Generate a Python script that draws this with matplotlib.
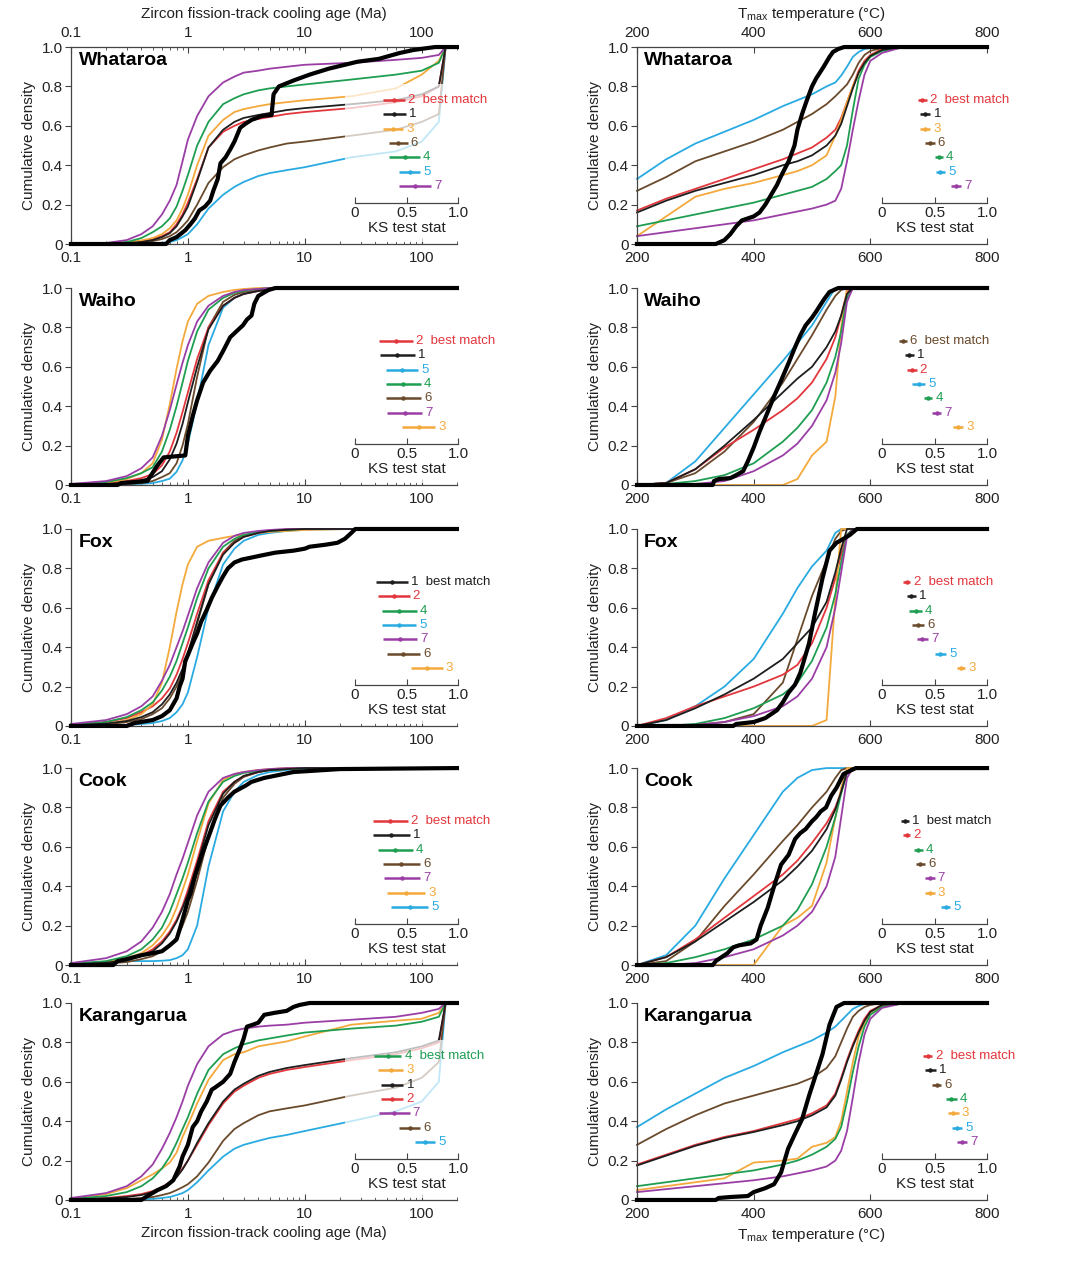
import matplotlib.pyplot as plt
from matplotlib.patches import Rectangle
from matplotlib.ticker import FixedLocator, LogLocator, NullFormatter

plt.rcParams['font.family'] = ['Liberation Sans', 'DejaVu Sans']
plt.rcParams['mathtext.fontset'] = 'custom'
plt.rcParams['mathtext.rm'] = 'Liberation Sans'

SITES = ['Whataroa', 'Waiho', 'Fox', 'Cook', 'Karangarua']

# shared x grids (Ma and deg C)
AGE = [0.1, 0.2, 0.3, 0.4, 0.5, 0.6, 0.7, 0.8, 0.9, 1.0, 1.2, 1.5, 2, 2.5, 3, 4, 5, 7, 10, 25, 60, 100, 140, 160, 200]
TEMP = [200, 250, 300, 350, 400, 450, 475, 500, 525, 540, 550, 560, 570, 580, 590, 600, 620, 650, 700, 800]

COLORS = {1: '#1e1e1e', 2: '#e2373c', 3: '#f4a93c', 4: '#1f9e52', 5: '#29abe2', 6: '#6a4a2c', 7: '#9a3ea6'}
DRAW_ORDER = [5, 6, 2, 3, 4, 7, 1]

# ---- zircon fission-track age CDFs, models 1-7 ----
AGE_WHATAROA = {
    7: [0.0, 0.005, 0.02, 0.05, 0.09, 0.15, 0.22, 0.30, 0.42, 0.53, 0.65, 0.75, 0.82, 0.85, 0.87, 0.88, 0.89, 0.90, 0.91, 0.92, 0.935, 0.945, 0.96, 1.0, 1.0],
    4: [0.0, 0.003, 0.01, 0.03, 0.06, 0.09, 0.13, 0.19, 0.27, 0.35, 0.50, 0.62, 0.71, 0.74, 0.76, 0.78, 0.79, 0.80, 0.81, 0.835, 0.86, 0.88, 0.92, 1.0, 1.0],
    3: [0.0, 0.002, 0.008, 0.018, 0.03, 0.05, 0.08, 0.12, 0.18, 0.25, 0.40, 0.55, 0.63, 0.67, 0.685, 0.70, 0.71, 0.72, 0.73, 0.75, 0.79, 0.86, 0.93, 1.0, 1.0],
    2: [0.0, 0.002, 0.006, 0.013, 0.025, 0.04, 0.06, 0.10, 0.15, 0.21, 0.33, 0.49, 0.57, 0.60, 0.62, 0.635, 0.645, 0.66, 0.67, 0.69, 0.72, 0.75, 0.80, 1.0, 1.0],
    1: [0.0, 0.001, 0.004, 0.01, 0.02, 0.035, 0.055, 0.09, 0.14, 0.19, 0.32, 0.49, 0.58, 0.62, 0.64, 0.655, 0.665, 0.68, 0.69, 0.71, 0.73, 0.76, 0.80, 1.0, 1.0],
    6: [0.0, 0.001, 0.004, 0.008, 0.015, 0.025, 0.04, 0.06, 0.09, 0.12, 0.20, 0.31, 0.39, 0.43, 0.45, 0.475, 0.49, 0.51, 0.52, 0.55, 0.58, 0.62, 0.66, 1.0, 1.0],
    5: [0.0, 0.0, 0.001, 0.002, 0.003, 0.006, 0.01, 0.02, 0.035, 0.05, 0.10, 0.18, 0.25, 0.29, 0.315, 0.345, 0.36, 0.375, 0.39, 0.44, 0.47, 0.52, 0.62, 1.0, 1.0],
}
AGE_WAIHO = {
    7: [0.005, 0.02, 0.045, 0.085, 0.14, 0.25, 0.38, 0.51, 0.62, 0.71, 0.83, 0.91, 0.96, 0.98, 0.99, 0.995, 1.0, 1.0, 1.0, 1.0, 1.0, 1.0, 1.0, 1.0, 1.0],
    3: [0.0, 0.01, 0.03, 0.06, 0.11, 0.23, 0.41, 0.59, 0.73, 0.83, 0.92, 0.96, 0.98, 0.99, 0.995, 1.0, 1.0, 1.0, 1.0, 1.0, 1.0, 1.0, 1.0, 1.0, 1.0],
    4: [0.003, 0.015, 0.035, 0.06, 0.09, 0.17, 0.28, 0.40, 0.52, 0.63, 0.78, 0.89, 0.95, 0.975, 0.985, 0.995, 1.0, 1.0, 1.0, 1.0, 1.0, 1.0, 1.0, 1.0, 1.0],
    2: [0.002, 0.01, 0.02, 0.035, 0.055, 0.10, 0.17, 0.265, 0.37, 0.47, 0.64, 0.80, 0.91, 0.95, 0.97, 0.985, 0.993, 1.0, 1.0, 1.0, 1.0, 1.0, 1.0, 1.0, 1.0],
    1: [0.0, 0.005, 0.012, 0.025, 0.04, 0.07, 0.13, 0.21, 0.31, 0.42, 0.60, 0.79, 0.91, 0.95, 0.97, 0.985, 0.993, 1.0, 1.0, 1.0, 1.0, 1.0, 1.0, 1.0, 1.0],
    6: [0.0, 0.002, 0.005, 0.01, 0.02, 0.04, 0.06, 0.11, 0.20, 0.31, 0.55, 0.80, 0.93, 0.965, 0.98, 0.99, 0.995, 1.0, 1.0, 1.0, 1.0, 1.0, 1.0, 1.0, 1.0],
    5: [0.0, 0.001, 0.003, 0.006, 0.01, 0.02, 0.032, 0.067, 0.125, 0.21, 0.42, 0.71, 0.90, 0.95, 0.97, 0.985, 0.993, 1.0, 1.0, 1.0, 1.0, 1.0, 1.0, 1.0, 1.0],
}
AGE_FOX = {
    3: [0.003, 0.01, 0.03, 0.06, 0.11, 0.22, 0.40, 0.58, 0.72, 0.82, 0.91, 0.94, 0.955, 0.965, 0.97, 0.98, 0.985, 0.99, 0.995, 1.0, 1.0, 1.0, 1.0, 1.0, 1.0],
    7: [0.01, 0.03, 0.06, 0.10, 0.15, 0.23, 0.31, 0.40, 0.48, 0.56, 0.70, 0.83, 0.93, 0.965, 0.98, 0.99, 0.995, 1.0, 1.0, 1.0, 1.0, 1.0, 1.0, 1.0, 1.0],
    4: [0.005, 0.02, 0.045, 0.08, 0.12, 0.18, 0.25, 0.33, 0.42, 0.50, 0.65, 0.80, 0.91, 0.95, 0.97, 0.985, 0.99, 0.996, 1.0, 1.0, 1.0, 1.0, 1.0, 1.0, 1.0],
    2: [0.005, 0.02, 0.04, 0.07, 0.10, 0.14, 0.19, 0.26, 0.34, 0.42, 0.57, 0.74, 0.88, 0.93, 0.96, 0.98, 0.99, 0.996, 1.0, 1.0, 1.0, 1.0, 1.0, 1.0, 1.0],
    1: [0.003, 0.012, 0.025, 0.045, 0.07, 0.11, 0.16, 0.22, 0.29, 0.37, 0.53, 0.72, 0.87, 0.93, 0.96, 0.98, 0.99, 0.996, 1.0, 1.0, 1.0, 1.0, 1.0, 1.0, 1.0],
    6: [0.002, 0.008, 0.02, 0.035, 0.06, 0.09, 0.14, 0.20, 0.27, 0.35, 0.52, 0.72, 0.88, 0.94, 0.965, 0.985, 0.99, 0.997, 1.0, 1.0, 1.0, 1.0, 1.0, 1.0, 1.0],
    5: [0.0, 0.002, 0.005, 0.01, 0.015, 0.025, 0.04, 0.07, 0.11, 0.17, 0.35, 0.60, 0.82, 0.90, 0.94, 0.97, 0.98, 0.99, 0.997, 1.0, 1.0, 1.0, 1.0, 1.0, 1.0],
}
AGE_COOK = {
    7: [0.01, 0.035, 0.07, 0.12, 0.19, 0.27, 0.36, 0.46, 0.54, 0.62, 0.76, 0.88, 0.95, 0.97, 0.98, 0.99, 0.995, 1.0, 1.0, 1.0, 1.0, 1.0, 1.0, 1.0, 1.0],
    4: [0.006, 0.02, 0.045, 0.08, 0.13, 0.19, 0.27, 0.36, 0.44, 0.52, 0.67, 0.83, 0.93, 0.96, 0.975, 0.985, 0.99, 0.995, 1.0, 1.0, 1.0, 1.0, 1.0, 1.0, 1.0],
    3: [0.004, 0.015, 0.035, 0.06, 0.10, 0.15, 0.21, 0.29, 0.38, 0.46, 0.63, 0.82, 0.94, 0.97, 0.98, 0.99, 0.995, 1.0, 1.0, 1.0, 1.0, 1.0, 1.0, 1.0, 1.0],
    2: [0.004, 0.015, 0.03, 0.05, 0.08, 0.12, 0.17, 0.23, 0.30, 0.38, 0.53, 0.73, 0.88, 0.93, 0.96, 0.98, 0.99, 0.995, 1.0, 1.0, 1.0, 1.0, 1.0, 1.0, 1.0],
    1: [0.003, 0.012, 0.025, 0.045, 0.07, 0.11, 0.16, 0.22, 0.29, 0.36, 0.51, 0.71, 0.87, 0.93, 0.96, 0.98, 0.99, 0.995, 1.0, 1.0, 1.0, 1.0, 1.0, 1.0, 1.0],
    6: [0.002, 0.008, 0.015, 0.03, 0.045, 0.07, 0.10, 0.14, 0.20, 0.27, 0.43, 0.65, 0.85, 0.92, 0.955, 0.98, 0.99, 0.995, 1.0, 1.0, 1.0, 1.0, 1.0, 1.0, 1.0],
    5: [0.01, 0.015, 0.02, 0.02, 0.02, 0.022, 0.025, 0.035, 0.05, 0.08, 0.20, 0.50, 0.78, 0.88, 0.93, 0.965, 0.98, 0.99, 0.995, 1.0, 1.0, 1.0, 1.0, 1.0, 1.0],
}
AGE_KARANGARUA = {
    7: [0.01, 0.035, 0.07, 0.12, 0.18, 0.26, 0.34, 0.42, 0.50, 0.58, 0.69, 0.78, 0.84, 0.86, 0.87, 0.88, 0.885, 0.89, 0.90, 0.915, 0.93, 0.95, 0.97, 1.0, 1.0],
    4: [0.005, 0.02, 0.04, 0.07, 0.11, 0.16, 0.22, 0.29, 0.36, 0.42, 0.54, 0.66, 0.74, 0.77, 0.79, 0.81, 0.82, 0.835, 0.85, 0.87, 0.885, 0.905, 0.93, 1.0, 1.0],
    3: [0.008, 0.03, 0.06, 0.10, 0.13, 0.16, 0.19, 0.24, 0.32, 0.38, 0.49, 0.61, 0.71, 0.74, 0.75, 0.78, 0.79, 0.805, 0.83, 0.89, 0.91, 0.92, 0.95, 1.0, 1.0],
    2: [0.003, 0.01, 0.02, 0.03, 0.045, 0.065, 0.09, 0.12, 0.16, 0.20, 0.28, 0.38, 0.49, 0.55, 0.58, 0.62, 0.64, 0.66, 0.675, 0.71, 0.74, 0.77, 0.80, 1.0, 1.0],
    1: [0.002, 0.008, 0.015, 0.025, 0.04, 0.06, 0.085, 0.115, 0.155, 0.20, 0.29, 0.39, 0.50, 0.56, 0.59, 0.63, 0.65, 0.67, 0.685, 0.72, 0.75, 0.78, 0.81, 1.0, 1.0],
    6: [0.0, 0.002, 0.005, 0.01, 0.015, 0.025, 0.035, 0.05, 0.065, 0.08, 0.12, 0.19, 0.30, 0.36, 0.39, 0.43, 0.45, 0.465, 0.48, 0.53, 0.57, 0.62, 0.70, 1.0, 1.0],
    5: [0.0, 0.0, 0.001, 0.003, 0.006, 0.01, 0.015, 0.025, 0.035, 0.05, 0.09, 0.15, 0.22, 0.26, 0.28, 0.30, 0.315, 0.33, 0.35, 0.40, 0.45, 0.50, 0.60, 1.0, 1.0],
}

# observed (thick black) age CDFs
OBS_AGE_X = [
    [0.1, 0.65, 0.7, 0.8, 0.95, 1.05, 1.15, 1.25, 1.4, 1.55, 1.65, 1.8, 1.9, 2.1, 2.3, 2.5, 2.8, 3.1, 3.5, 4.3, 5.2, 5.4, 6.0, 8.0, 11, 16, 28, 43, 65, 85, 130, 200],
    [0.1, 0.25, 0.27, 0.45, 0.55, 0.62, 0.95, 1.0, 1.1, 1.2, 1.35, 1.55, 1.8, 2.0, 2.3, 2.6, 2.95, 3.2, 3.5, 3.7, 4.0, 4.9, 5.6, 200],
    [0.1, 0.3, 0.35, 0.5, 0.6, 0.7, 0.8, 0.85, 0.9, 0.95, 1.0, 1.1, 1.2, 1.3, 1.45, 1.6, 1.8, 2.0, 2.2, 2.5, 2.9, 3.5, 4.2, 5.6, 8, 10, 11, 15, 19, 22, 25, 27, 200],
    [0.1, 0.23, 0.25, 0.3, 0.4, 0.5, 0.6, 0.7, 0.8, 0.87, 0.95, 1.0, 1.05, 1.15, 1.3, 1.5, 1.7, 1.9, 2.2, 2.5, 3.1, 3.5, 4.5, 8, 20, 200],
    [0.1, 0.4, 0.45, 0.55, 0.65, 0.75, 0.85, 0.9, 1.0, 1.1, 1.2, 1.3, 1.45, 1.6, 1.7, 2.0, 2.3, 2.5, 2.8, 3.0, 3.2, 3.6, 4.0, 4.5, 5.5, 7, 8, 9, 11, 200],
]
OBS_AGE_Y = [
    [0.0, 0.0, 0.02, 0.035, 0.07, 0.10, 0.13, 0.17, 0.19, 0.22, 0.27, 0.33, 0.41, 0.44, 0.48, 0.52, 0.59, 0.61, 0.63, 0.65, 0.655, 0.76, 0.80, 0.83, 0.86, 0.89, 0.925, 0.94, 0.97, 0.985, 1.0, 1.0],
    [0.0, 0.0, 0.01, 0.02, 0.10, 0.14, 0.15, 0.25, 0.35, 0.43, 0.52, 0.58, 0.63, 0.68, 0.75, 0.78, 0.81, 0.84, 0.86, 0.92, 0.96, 0.99, 1.0, 1.0],
    [0.0, 0.0, 0.015, 0.03, 0.05, 0.08, 0.14, 0.20, 0.24, 0.33, 0.36, 0.42, 0.47, 0.53, 0.59, 0.65, 0.71, 0.76, 0.80, 0.83, 0.845, 0.855, 0.865, 0.88, 0.89, 0.90, 0.91, 0.92, 0.93, 0.95, 0.98, 1.0, 1.0],
    [0.0, 0.0, 0.02, 0.03, 0.05, 0.06, 0.07, 0.10, 0.13, 0.20, 0.28, 0.33, 0.36, 0.45, 0.55, 0.65, 0.74, 0.81, 0.85, 0.88, 0.91, 0.93, 0.95, 0.98, 0.995, 1.0],
    [0.0, 0.0, 0.02, 0.05, 0.07, 0.10, 0.17, 0.22, 0.28, 0.37, 0.40, 0.45, 0.50, 0.56, 0.57, 0.60, 0.64, 0.70, 0.77, 0.82, 0.88, 0.89, 0.90, 0.94, 0.95, 0.96, 0.98, 0.99, 1.0, 1.0],
]

# ---- Tmax temperature CDFs, models 1-7 ----
TEMP_WHATAROA = {
    5: [0.33, 0.43, 0.51, 0.57, 0.63, 0.70, 0.73, 0.76, 0.80, 0.82, 0.855, 0.90, 0.95, 0.975, 0.99, 0.995, 1.0, 1.0, 1.0, 1.0],
    6: [0.27, 0.34, 0.42, 0.47, 0.52, 0.58, 0.62, 0.66, 0.71, 0.75, 0.78, 0.81, 0.86, 0.92, 0.96, 0.98, 0.995, 1.0, 1.0, 1.0],
    2: [0.17, 0.23, 0.28, 0.33, 0.38, 0.43, 0.46, 0.49, 0.54, 0.58, 0.64, 0.72, 0.80, 0.88, 0.93, 0.96, 0.99, 1.0, 1.0, 1.0],
    1: [0.16, 0.22, 0.27, 0.31, 0.35, 0.40, 0.42, 0.45, 0.50, 0.55, 0.61, 0.70, 0.79, 0.87, 0.92, 0.955, 0.985, 1.0, 1.0, 1.0],
    3: [0.04, 0.14, 0.24, 0.28, 0.31, 0.35, 0.37, 0.40, 0.45, 0.55, 0.63, 0.72, 0.80, 0.87, 0.92, 0.955, 0.985, 1.0, 1.0, 1.0],
    4: [0.09, 0.12, 0.15, 0.18, 0.21, 0.25, 0.27, 0.29, 0.33, 0.37, 0.40, 0.50, 0.68, 0.84, 0.91, 0.95, 0.98, 0.997, 1.0, 1.0],
    7: [0.04, 0.06, 0.08, 0.10, 0.12, 0.15, 0.165, 0.18, 0.20, 0.22, 0.28, 0.42, 0.58, 0.73, 0.86, 0.93, 0.97, 0.995, 1.0, 1.0],
}
TEMP_WAIHO = {
    5: [0.0, 0.01, 0.12, 0.29, 0.46, 0.63, 0.72, 0.81, 0.93, 1.0, 1.0, 1.0, 1.0, 1.0, 1.0, 1.0, 1.0, 1.0, 1.0, 1.0],
    6: [0.0, 0.01, 0.06, 0.17, 0.32, 0.52, 0.64, 0.76, 0.89, 0.96, 0.99, 1.0, 1.0, 1.0, 1.0, 1.0, 1.0, 1.0, 1.0, 1.0],
    1: [0.0, 0.01, 0.08, 0.20, 0.33, 0.47, 0.54, 0.60, 0.70, 0.78, 0.86, 0.97, 1.0, 1.0, 1.0, 1.0, 1.0, 1.0, 1.0, 1.0],
    2: [0.0, 0.01, 0.08, 0.19, 0.28, 0.38, 0.44, 0.52, 0.64, 0.75, 0.86, 0.98, 1.0, 1.0, 1.0, 1.0, 1.0, 1.0, 1.0, 1.0],
    4: [0.0, 0.005, 0.02, 0.05, 0.11, 0.22, 0.29, 0.38, 0.52, 0.65, 0.78, 0.95, 1.0, 1.0, 1.0, 1.0, 1.0, 1.0, 1.0, 1.0],
    7: [0.0, 0.0, 0.005, 0.02, 0.07, 0.15, 0.21, 0.30, 0.43, 0.57, 0.72, 0.93, 1.0, 1.0, 1.0, 1.0, 1.0, 1.0, 1.0, 1.0],
    3: [0.0, 0.0, 0.0, 0.0, 0.0, 0.0, 0.03, 0.15, 0.22, 0.45, 0.80, 1.0, 1.0, 1.0, 1.0, 1.0, 1.0, 1.0, 1.0, 1.0],
}
TEMP_FOX = {
    5: [0.0, 0.03, 0.10, 0.20, 0.34, 0.57, 0.70, 0.81, 0.89, 0.98, 1.0, 1.0, 1.0, 1.0, 1.0, 1.0, 1.0, 1.0, 1.0, 1.0],
    1: [0.0, 0.03, 0.09, 0.16, 0.24, 0.34, 0.42, 0.50, 0.63, 0.78, 0.90, 1.0, 1.0, 1.0, 1.0, 1.0, 1.0, 1.0, 1.0, 1.0],
    2: [0.0, 0.04, 0.10, 0.15, 0.20, 0.26, 0.31, 0.42, 0.60, 0.75, 0.87, 0.97, 1.0, 1.0, 1.0, 1.0, 1.0, 1.0, 1.0, 1.0],
    6: [0.0, 0.0, 0.005, 0.02, 0.06, 0.22, 0.44, 0.66, 0.84, 0.95, 0.99, 1.0, 1.0, 1.0, 1.0, 1.0, 1.0, 1.0, 1.0, 1.0],
    4: [0.0, 0.0, 0.01, 0.04, 0.09, 0.16, 0.22, 0.33, 0.50, 0.67, 0.83, 0.97, 1.0, 1.0, 1.0, 1.0, 1.0, 1.0, 1.0, 1.0],
    7: [0.0, 0.0, 0.005, 0.02, 0.05, 0.10, 0.15, 0.24, 0.40, 0.60, 0.78, 0.96, 1.0, 1.0, 1.0, 1.0, 1.0, 1.0, 1.0, 1.0],
    3: [0.0, 0.0, 0.0, 0.0, 0.0, 0.0, 0.0, 0.0, 0.03, 0.65, 1.0, 1.0, 1.0, 1.0, 1.0, 1.0, 1.0, 1.0, 1.0, 1.0],
}
TEMP_COOK = {
    5: [0.0, 0.05, 0.20, 0.44, 0.66, 0.88, 0.95, 0.99, 1.0, 1.0, 1.0, 1.0, 1.0, 1.0, 1.0, 1.0, 1.0, 1.0, 1.0, 1.0],
    6: [0.0, 0.02, 0.12, 0.30, 0.46, 0.63, 0.71, 0.80, 0.88, 0.95, 0.99, 1.0, 1.0, 1.0, 1.0, 1.0, 1.0, 1.0, 1.0, 1.0],
    2: [0.0, 0.04, 0.13, 0.24, 0.35, 0.46, 0.53, 0.62, 0.72, 0.80, 0.88, 0.98, 1.0, 1.0, 1.0, 1.0, 1.0, 1.0, 1.0, 1.0],
    1: [0.0, 0.04, 0.12, 0.22, 0.32, 0.43, 0.50, 0.58, 0.69, 0.79, 0.88, 0.98, 1.0, 1.0, 1.0, 1.0, 1.0, 1.0, 1.0, 1.0],
    4: [0.0, 0.01, 0.04, 0.08, 0.13, 0.20, 0.28, 0.41, 0.60, 0.75, 0.87, 0.98, 1.0, 1.0, 1.0, 1.0, 1.0, 1.0, 1.0, 1.0],
    7: [0.0, 0.0, 0.01, 0.04, 0.08, 0.15, 0.20, 0.27, 0.40, 0.55, 0.75, 0.95, 1.0, 1.0, 1.0, 1.0, 1.0, 1.0, 1.0, 1.0],
    3: [0.0, 0.0, 0.0, 0.0, 0.0, 0.20, 0.24, 0.30, 0.52, 0.75, 0.90, 1.0, 1.0, 1.0, 1.0, 1.0, 1.0, 1.0, 1.0, 1.0],
}
TEMP_KARANGARUA = {
    5: [0.37, 0.46, 0.54, 0.62, 0.68, 0.75, 0.78, 0.81, 0.85, 0.88, 0.91, 0.94, 0.97, 0.985, 0.995, 1.0, 1.0, 1.0, 1.0, 1.0],
    6: [0.28, 0.36, 0.43, 0.49, 0.53, 0.57, 0.59, 0.62, 0.67, 0.73, 0.80, 0.87, 0.93, 0.96, 0.98, 0.99, 1.0, 1.0, 1.0, 1.0],
    2: [0.18, 0.23, 0.28, 0.32, 0.35, 0.39, 0.41, 0.44, 0.48, 0.54, 0.62, 0.71, 0.79, 0.86, 0.92, 0.96, 0.99, 1.0, 1.0, 1.0],
    1: [0.175, 0.225, 0.275, 0.315, 0.345, 0.38, 0.40, 0.43, 0.47, 0.53, 0.61, 0.70, 0.78, 0.85, 0.91, 0.955, 0.99, 1.0, 1.0, 1.0],
    4: [0.07, 0.09, 0.11, 0.13, 0.15, 0.18, 0.20, 0.23, 0.27, 0.31, 0.37, 0.50, 0.65, 0.78, 0.88, 0.94, 0.98, 0.995, 1.0, 1.0],
    3: [0.05, 0.07, 0.09, 0.11, 0.19, 0.20, 0.21, 0.27, 0.29, 0.32, 0.40, 0.55, 0.70, 0.83, 0.90, 0.95, 0.985, 1.0, 1.0, 1.0],
    7: [0.04, 0.055, 0.07, 0.085, 0.10, 0.12, 0.135, 0.15, 0.17, 0.20, 0.25, 0.35, 0.52, 0.70, 0.84, 0.92, 0.975, 0.995, 1.0, 1.0],
}

OBS_TEMP_X = [
    [200, 335, 350, 360, 370, 380, 390, 400, 410, 420, 430, 440, 447, 460, 470, 475, 483, 490, 500, 507, 520, 530, 536, 545, 555, 800],
    [200, 330, 332, 340, 360, 370, 382, 390, 400, 410, 424, 435, 447, 460, 471, 480, 489, 500, 507, 520, 530, 545, 800],
    [200, 365, 370, 400, 420, 440, 450, 460, 471, 480, 495, 505, 518, 530, 542, 554, 565, 577, 800],
    [200, 330, 335, 345, 355, 365, 375, 395, 405, 412, 424, 435, 447, 460, 471, 480, 489, 500, 507, 515, 524, 533, 542, 554, 575, 800],
    [200, 335, 340, 360, 390, 400, 420, 435, 447, 459, 470, 483, 495, 506, 518, 530, 542, 555, 800],
]
OBS_TEMP_Y = [
    [0.0, 0.0, 0.02, 0.05, 0.09, 0.12, 0.13, 0.14, 0.16, 0.20, 0.25, 0.30, 0.345, 0.42, 0.50, 0.58, 0.66, 0.72, 0.80, 0.84, 0.90, 0.95, 0.975, 0.99, 1.0, 1.0],
    [0.0, 0.0, 0.02, 0.03, 0.035, 0.05, 0.07, 0.12, 0.19, 0.27, 0.37, 0.45, 0.53, 0.62, 0.70, 0.76, 0.81, 0.85, 0.88, 0.94, 0.98, 1.0, 1.0],
    [0.0, 0.0, 0.01, 0.02, 0.04, 0.08, 0.12, 0.17, 0.21, 0.27, 0.42, 0.57, 0.75, 0.89, 0.93, 0.95, 0.97, 1.0, 1.0],
    [0.0, 0.0, 0.02, 0.04, 0.06, 0.09, 0.10, 0.11, 0.13, 0.20, 0.29, 0.40, 0.51, 0.56, 0.64, 0.67, 0.69, 0.73, 0.75, 0.78, 0.80, 0.86, 0.90, 0.97, 1.0, 1.0],
    [0.0, 0.0, 0.01, 0.015, 0.02, 0.04, 0.06, 0.08, 0.14, 0.26, 0.33, 0.41, 0.53, 0.63, 0.74, 0.89, 0.98, 1.0, 1.0],
]

# KS test statistic ranges (model, low, high), listed top to bottom
KS_AGE = [
    [(2, 0.27, 0.48), (1, 0.27, 0.49), (3, 0.27, 0.47), (6, 0.33, 0.51), (4, 0.33, 0.63), (5, 0.43, 0.63), (7, 0.43, 0.74)],
    [(2, 0.23, 0.56), (1, 0.24, 0.58), (5, 0.30, 0.61), (4, 0.30, 0.64), (6, 0.30, 0.64), (7, 0.31, 0.65), (3, 0.46, 0.78)],
    [(1, 0.20, 0.51), (2, 0.22, 0.53), (4, 0.26, 0.60), (5, 0.26, 0.59), (7, 0.27, 0.60), (6, 0.31, 0.63), (3, 0.54, 0.85)],
    [(2, 0.17, 0.51), (1, 0.17, 0.53), (4, 0.22, 0.56), (6, 0.27, 0.63), (7, 0.28, 0.63), (3, 0.31, 0.68), (5, 0.35, 0.71)],
    [(4, 0.18, 0.45), (3, 0.22, 0.47), (1, 0.25, 0.47), (2, 0.25, 0.47), (7, 0.23, 0.53), (6, 0.43, 0.63), (5, 0.58, 0.78)],
]
KS_TEMP = [
    [(2, 0.34, 0.43), (1, 0.36, 0.46), (3, 0.36, 0.46), (6, 0.41, 0.50), (4, 0.50, 0.58), (5, 0.51, 0.60), (7, 0.66, 0.75)],
    [(6, 0.16, 0.24), (1, 0.22, 0.30), (2, 0.24, 0.33), (5, 0.29, 0.41), (4, 0.40, 0.48), (7, 0.48, 0.56), (3, 0.68, 0.77)],
    [(2, 0.20, 0.27), (1, 0.24, 0.32), (4, 0.26, 0.38), (6, 0.29, 0.40), (7, 0.33, 0.44), (5, 0.50, 0.61), (3, 0.71, 0.79)],
    [(1, 0.18, 0.26), (2, 0.20, 0.27), (4, 0.30, 0.39), (6, 0.32, 0.41), (7, 0.41, 0.50), (3, 0.41, 0.50), (5, 0.56, 0.65)],
    [(2, 0.39, 0.48), (1, 0.41, 0.51), (6, 0.48, 0.56), (4, 0.61, 0.71), (3, 0.63, 0.73), (5, 0.67, 0.76), (7, 0.71, 0.81)],
]

AGE_CURVES = [AGE_WHATAROA, AGE_WAIHO, AGE_FOX, AGE_COOK, AGE_KARANGARUA]
TEMP_CURVES = [TEMP_WHATAROA, TEMP_WAIHO, TEMP_FOX, TEMP_COOK, TEMP_KARANGARUA]

AGE_LABEL = 'Zircon fission-track cooling age (Ma)'
TEMP_LABEL = r'T$_{\mathregular{max}}$ temperature (°C)'
AX_COL = '#444444'
TXT_COL = '#222222'

fig = plt.figure(figsize=(10.8, 12.61), dpi=100)
row_bottoms = [0.8065, 0.6154, 0.4243, 0.2347, 0.0484]
h = 0.1562


def add_ks_inset(ax, entries, ks0, ks1):
    # pale veil behind the KS inset
    ax.add_patch(Rectangle((ks0 - 0.025, 0.01), 1.0 - (ks0 - 0.025), 0.8, transform=ax.transAxes,
                           facecolor='white', edgecolor='none', alpha=0.72, zorder=3))
    ins = ax.inset_axes([ks0, 0.208, ks1 - ks0, 0.572], zorder=6)
    ins.patch.set_visible(False)
    for s in ['top', 'right', 'left']:
        ins.spines[s].set_visible(False)
    ins.spines['bottom'].set_color(AX_COL)
    ins.spines['bottom'].set_linewidth(0.9)
    ins.set_xlim(0, 1)
    ins.set_ylim(-1.2, 6.684)
    ins.set_yticks([])
    ins.set_xticks([0, 0.5, 1.0])
    ins.set_xticklabels(['0', '0.5', '1.0'])
    ins.tick_params(axis='x', direction='in', length=4, width=0.8, color=AX_COL, labelsize=11, pad=2, labelcolor=TXT_COL)
    ins.set_xlabel('KS test stat', fontsize=11, labelpad=1, color=TXT_COL)
    for i, (m, lo, hi) in enumerate(entries):
        y = 6 - i
        ins.errorbar((lo + hi) / 2, y, xerr=(hi - lo) / 2, fmt='o', ms=2.2, color=COLORS[m],
                     elinewidth=1.8, capsize=0, clip_on=False)
        txt = f'{m}  best match' if i == 0 else str(m)
        ins.text(hi + 0.03, y, txt, color=COLORS[m], fontsize=9.5, va='center', ha='left')


for row in range(5):
    for col in range(2):
        if col == 0:
            ax = fig.add_axes([0.0657, row_bottoms[row], 0.3574, h])
            grid, curves = AGE, AGE_CURVES[row]
            ox, oy = OBS_AGE_X[row], OBS_AGE_Y[row]
        else:
            ax = fig.add_axes([0.5898, row_bottoms[row], 0.3241, h])
            grid, curves = TEMP, TEMP_CURVES[row]
            ox, oy = OBS_TEMP_X[row], OBS_TEMP_Y[row]

        for m in DRAW_ORDER:
            ax.plot(grid, curves[m], color=COLORS[m], lw=1.3, zorder=2, clip_on=False)
        ax.plot(ox, oy, color='black', lw=3.0, zorder=4, clip_on=False, solid_joinstyle='round')

        if col == 0:
            ax.set_xscale('log')
            ax.set_xlim(0.1, 200)
            ax.xaxis.set_major_locator(FixedLocator([0.1, 1, 10, 100]))
            ax.set_xticklabels(['0.1', '1', '10', '100'])
            ax.xaxis.set_minor_locator(LogLocator(base=10, subs=range(2, 10)))
            ax.xaxis.set_minor_formatter(NullFormatter())
            add_ks_inset(ax, KS_AGE[row], 0.736, 1.003)
            label = AGE_LABEL
        else:
            ax.set_xlim(200, 800)
            ax.set_xticks([200, 400, 600, 800])
            add_ks_inset(ax, KS_TEMP[row], 0.70, 1.0)
            label = TEMP_LABEL

        ax.set_ylim(0, 1)
        ax.set_yticks([0, 0.2, 0.4, 0.6, 0.8, 1.0])
        ax.set_yticklabels(['0', '0.2', '0.4', '0.6', '0.8', '1.0'])
        ax.spines['right'].set_visible(False)
        ax.spines['top'].set_visible(row == 0)
        for s in ['left', 'bottom', 'top']:
            ax.spines[s].set_color(AX_COL)
            ax.spines[s].set_linewidth(0.9)
        ax.tick_params(axis='y', direction='out', length=4, width=0.8, color=AX_COL, labelsize=11,
                       labelcolor=TXT_COL, pad=2)
        ax.tick_params(axis='x', which='major', direction='in', length=4, width=0.8, color=AX_COL,
                       labelsize=11, labelcolor=TXT_COL, pad=5, top=(row == 0), labeltop=(row == 0))
        ax.tick_params(axis='x', which='minor', direction='in', length=2.5, width=0.6, color=AX_COL,
                       top=(row == 0))
        ax.set_ylabel('Cumulative density', fontsize=11, color=TXT_COL, labelpad=4)
        if row == 0:
            ax.xaxis.set_label_position('top')
            ax.set_xlabel(label, fontsize=11, color=TXT_COL, labelpad=6)
        elif row == 4:
            ax.set_xlabel(label, fontsize=11, color=TXT_COL, labelpad=4)

        ax.text(0.02, 0.93, SITES[row], transform=ax.transAxes, fontsize=14, fontweight='bold',
                va='center', ha='left', color='black', zorder=7)

fig.savefig('out.png', dpi=100)
